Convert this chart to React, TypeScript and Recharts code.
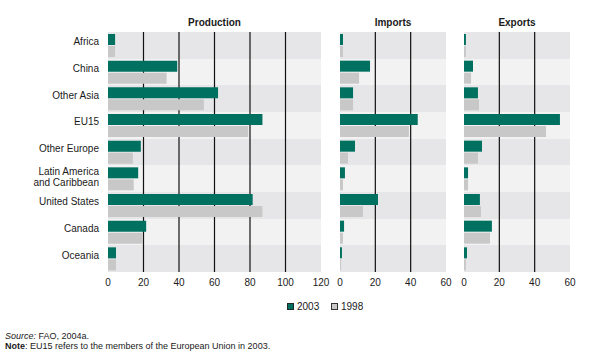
import React from "react";
import { BarChart, Bar, XAxis, YAxis, CartesianGrid } from "recharts";

const categories = [
  "Africa",
  "China",
  "Other Asia",
  "EU15",
  "Other Europe",
  "Latin America\nand Caribbean",
  "United States",
  "Canada",
  "Oceania",
];

const production2003 = [4, 39, 62, 87, 18.5, 17, 81.5, 21.5, 4.5];
const production1998 = [4, 33, 54, 79, 14, 14.5, 87, 19.5, 4.5];
const imports2003 = [1.7, 17, 7.4, 44, 8.5, 2.8, 21.5, 2.3, 1.1];
const imports1998 = [1.7, 10.8, 7.4, 39, 4.5, 1.7, 13, 1.7, 0.6];
const exports2003 = [1.1, 5.1, 7.9, 54.3, 10.2, 2.3, 9, 15.8, 1.7];
const exports1998 = [1.1, 4, 8.5, 46.4, 7.9, 2.3, 9.6, 14.7, 1.1];

const productionTicks = [0, 20, 40, 60, 80, 100, 120];
const tradeTicks = [0, 20, 40, 60];

const seriesLabels = ["2003", "1998"];
const panelTitles = ["Production", "Imports", "Exports"];

const GREEN = "#007060";
const GRAY = "#c8c8c9";
const BAND_DARK = "#e6e6e8";
const BAND_LIGHT = "#f2f2f2";
const FONT = "'Liberation Sans', Arial, Helvetica, sans-serif";

const buildRows = (a: number[], b: number[]) =>
  categories.map((name, i) => ({ name, v2003: a[i], v1998: b[i] }));

const CategoryTick = (props: any) => {
  const { x, y, payload } = props;
  const lines = String(payload.value).split("\n");
  if (lines.length === 1) {
    return (
      <text x={x} y={y - 3.5} dy="0.355em" textAnchor="end" fontSize={10} fill="#1a1a1a" fontFamily={FONT}>
        {lines[0]}
      </text>
    );
  }
  return (
    <text x={x} y={y} textAnchor="end" fontSize={10} fill="#1a1a1a" fontFamily={FONT}>
      <tspan x={x} y={y - 7.2} dy="0.355em">{lines[0]}</tspan>
      <tspan x={x} y={y + 3.5} dy="0.355em">{lines[1]}</tspan>
    </text>
  );
};

// band boundaries of the category axis, from the axis' own band scale
const bandEdges = (args: any) => {
  const yAxis = args && args.yAxis;
  if (!yAxis || !yAxis.scale) return [];
  const s: any = yAxis.scale;
  return categories.map((c) => (typeof s === "function" ? s(c) : s.map ? s.map(c) : 0));
};

type PanelProps = {
  title: string;
  rows: { name: string; v2003: number; v1998: number }[];
  ticks: number[];
  showY: boolean;
  left: number;
  width: number;
  marginLeft: number;
  marginRight: number;
  yWidth: number;
};

const Panel = ({ title, rows, ticks, showY, left, width, marginLeft, marginRight, yWidth }: PanelProps) => {
  const max = ticks[ticks.length - 1];
  const plotLeft = left + marginLeft + (showY ? yWidth : 0);
  const plotWidth = width - marginLeft - marginRight - (showY ? yWidth : 0);
  return (
    <>
      <div
        style={{
          position: "absolute",
          left: plotLeft,
          top: 17,
          width: plotWidth,
          textAlign: "center",
          fontFamily: FONT,
          fontWeight: "bold",
          fontSize: 10,
          lineHeight: "12px",
          color: "#1a1a1a",
        }}
      >
        {title}
      </div>
      <div style={{ position: "absolute", left, top: 0 }}>
        <BarChart
          width={width}
          height={300}
          data={rows}
          layout="vertical"
          margin={{ top: 32, right: marginRight, bottom: 0, left: marginLeft }}
          barCategoryGap={2}
          barGap={1}
        >
          <CartesianGrid
            vertical={false}
            horizontal={true}
            stroke="none"
            horizontalFill={[BAND_DARK, BAND_LIGHT]}
            fillOpacity={1}
            horizontalCoordinatesGenerator={bandEdges}
          />
          <CartesianGrid
            horizontal={false}
            vertical={true}
            stroke="#111"
            strokeWidth={1.2}
            verticalValues={ticks.slice(1, -1)}
          />
          <XAxis
            type="number"
            domain={[0, max]}
            ticks={ticks}
            interval={0}
            tickLine={false}
            axisLine={false}
            tickSize={5}
            height={28}
            tick={{ fontSize: 10, fill: "#1a1a1a", fontFamily: FONT }}
          />
          <YAxis
            type="category"
            dataKey="name"
            hide={!showY}
            width={yWidth}
            tickLine={false}
            axisLine={false}
            tickSize={7}
            interval={0}
            tick={<CategoryTick />}
          />
          <Bar dataKey="v2003" fill={GREEN} isAnimationActive={false} />
          <Bar dataKey="v1998" fill={GRAY} isAnimationActive={false} />
        </BarChart>
      </div>
    </>
  );
};

export default function App() {
  return (
    <div
      style={{
        position: "absolute",
        left: 0,
        top: 0,
        width: 613,
        height: 353,
        background: "#fff",
        overflow: "hidden",
        fontFamily: FONT,
      }}
    >
      <Panel
        title={panelTitles[0]}
        rows={buildRows(production2003, production1998)}
        ticks={productionTicks}
        showY={true}
        left={0}
        width={330}
        marginLeft={0}
        marginRight={9}
        yWidth={108}
      />
      <Panel
        title={panelTitles[1]}
        rows={buildRows(imports2003, imports1998)}
        ticks={tradeTicks}
        showY={false}
        left={330}
        width={126}
        marginLeft={10}
        marginRight={10}
        yWidth={0}
      />
      <Panel
        title={panelTitles[2]}
        rows={buildRows(exports2003, exports1998)}
        ticks={tradeTicks}
        showY={false}
        left={454}
        width={126}
        marginLeft={10}
        marginRight={10}
        yWidth={0}
      />
      {/* legend */}
      <div style={{ position: "absolute", left: 287, top: 302.5, width: 7, height: 7, boxSizing: "border-box", background: GREEN, border: "1px solid #1d2d2a" }} />
      <div style={{ position: "absolute", left: 297, top: 300.5, fontSize: 10, lineHeight: "12px", color: "#1a1a1a" }}>{seriesLabels[0]}</div>
      <div style={{ position: "absolute", left: 331, top: 302.5, width: 7, height: 7, boxSizing: "border-box", background: GRAY, border: "1px solid #333" }} />
      <div style={{ position: "absolute", left: 341, top: 300.5, fontSize: 10, lineHeight: "12px", color: "#1a1a1a" }}>{seriesLabels[1]}</div>
      {/* source & note */}
      <div style={{ position: "absolute", left: 5, top: 330.5, fontSize: 9, lineHeight: "10px", color: "#1a1a1a", whiteSpace: "nowrap" }}>
        <div>
          <i>Source:</i> FAO, 2004a.
        </div>
        <div>
          <b>Note</b>: EU15 refers to the members of the European Union in 2003.
        </div>
      </div>
    </div>
  );
}
